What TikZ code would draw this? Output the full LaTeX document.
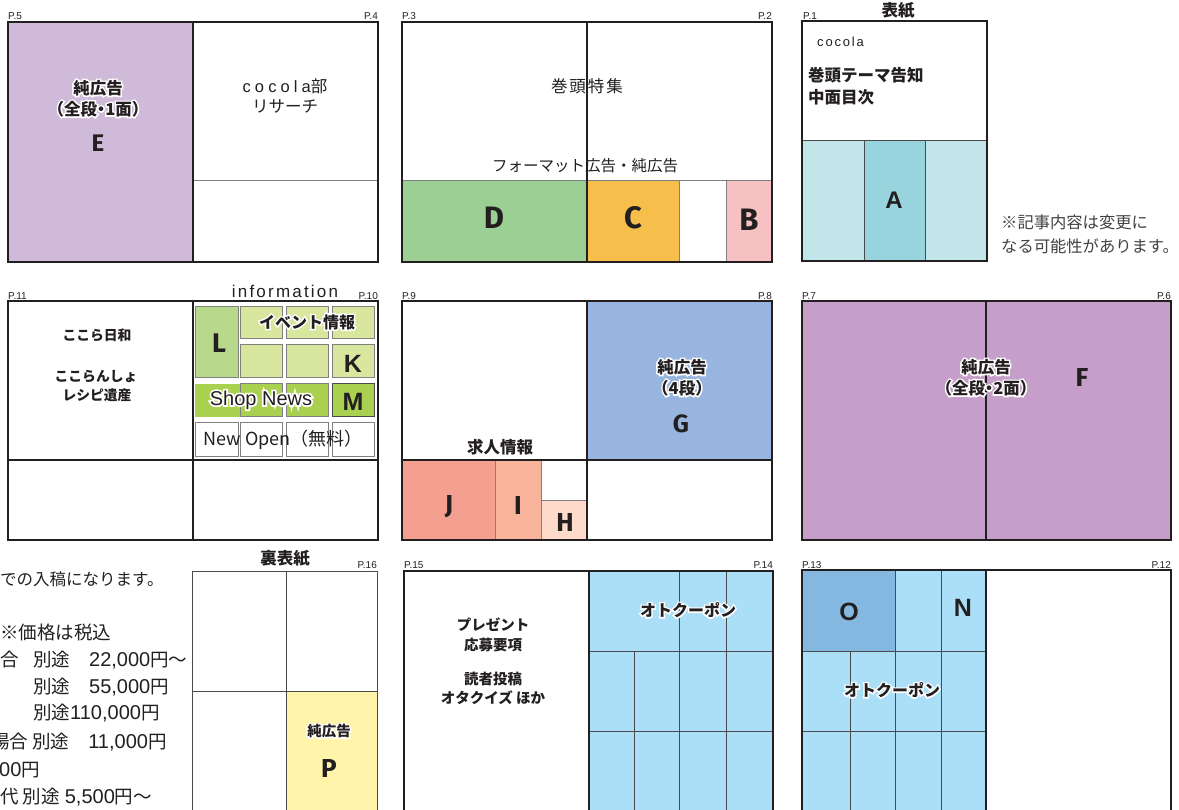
\documentclass[tikz,border=0pt]{standalone}
\usepackage{fontspec}
\setmainfont{Noto Sans CJK JP}
\newfontfamily\jh{Noto Sans CJK JP}[RawFeature=+halt]
\newfontfamily\jsp{Noto Sans CJK JP}[LetterSpace=12]
\newfontfamily\lat{Liberation Sans}
\newfontfamily\fira{Fira Sans}
\newfontfamily\latsp{Liberation Sans}[LetterSpace=25]
\newfontfamily\latsps{Liberation Sans}[LetterSpace=14]
\definecolor{ink}{HTML}{231F20}
\definecolor{gline}{HTML}{808080}
\definecolor{dline}{HTML}{4A4A4A}
\definecolor{ePurple}{HTML}{CFBAD9}
\definecolor{fPurple}{HTML}{C59FC9}
\definecolor{dGreen}{HTML}{9BCF93}
\definecolor{cOrange}{HTML}{F6BE4B}
\definecolor{bPink}{HTML}{F7C0C2}
\definecolor{aLight}{HTML}{C2E5EA}
\definecolor{aDark}{HTML}{98D4DD}
\definecolor{gBlue}{HTML}{97B5DE}
\definecolor{jRed}{HTML}{F4A090}
\definecolor{iSalmon}{HTML}{F9B59B}
\definecolor{hPeach}{HTML}{FDDACA}
\definecolor{lGreen}{HTML}{B8D98C}
\definecolor{evGreen}{HTML}{D8E79D}
\definecolor{shopGreen}{HTML}{A9D04F}
\definecolor{cpBlue}{HTML}{ABDFF8}
\definecolor{oBlue}{HTML}{84B8E1}
\definecolor{pYellow}{HTML}{FFF4AA}
\newcommand\halo[1]{\leavevmode\rlap{\color{white}\addfontfeature{FakeBold=18}#1}#1}
\newcommand\dg[1]{{\lat\fontsize{20}{20}\selectfont #1}}
\begin{document}
\begin{tikzpicture}[x=1pt,y=-1pt,
  border/.style={draw=ink, line width=1.1pt},
  inner/.style={draw=gline, line width=1pt},
  dark/.style={draw=dline, line width=1pt},
  pg/.style={font=\lat\fontsize{10}{10}\selectfont, inner sep=0pt, text=ink},
  jb/.style={font=\bfseries\fontsize{16.5}{16.5}\selectfont, inner sep=0pt, text=ink},
  jr/.style={font=\fontsize{16.5}{16.5}\selectfont, inner sep=0pt, text=ink},
  pr/.style={font=\fontsize{18.5}{18.5}\selectfont, inner sep=0pt, text=ink, anchor=west},
  bigc/.style={font=\fira\bfseries\fontsize{26}{26}\selectfont, inner sep=0pt, text=ink},
  bigl/.style={font=\lat\bfseries\fontsize{25}{25}\selectfont, inner sep=0pt, text=ink},
  cell/.style={draw=gline, line width=1pt}]
\useasboundingbox (0,0) rectangle (1179,810);
\clip (0,0) rectangle (1179,810);
\fill[white] (0,0) rectangle (1179,810);

% ===== P.5 / P.4 =====
\fill[ePurple] (8,22) rectangle (193,262);
\draw[inner] (193,181) -- (378,181);
\draw[border] (8,22) rectangle (378,262);
\draw[border] (193,22) -- (193,262);
\node[pg,anchor=west] (p5) at (8,16) {P.5};
\node[pg,anchor=east] (p4) at (378,16) {P.4};
\node[jb] (e1) at (98,88) {\halo{純広告}};
\node[jb,font=\jh\bfseries\fontsize{16.5}{16.5}\selectfont] (e2) at (98,109) {\halo{（全段・1面）}};
\node[bigc,font=\fira\bfseries\fontsize{24}{24}\selectfont] (eE) at (98,143) {E};
\node[jr] (r1) at (285,86) {{\latsp cocola}部};
\node[jr] (r2) at (285,106) {リサーチ};

% ===== P.3 / P.2 =====
\fill[dGreen] (402,181) rectangle (587,262);
\fill[cOrange] (587,181) rectangle (679,262);
\fill[bPink] (726,181) rectangle (772,262);
\draw[inner] (402,181) -- (772,181);
\draw[inner] (679,181) -- (679,262);
\draw[inner] (726,181) -- (726,262);
\draw[border] (402,22) rectangle (772,262);
\draw[border] (587,22) -- (587,262);
\node[pg,anchor=west] (p3) at (402,16) {P.3};
\node[pg,anchor=east] (p2) at (772,16) {P.2};
\node[jr,font=\jsp\fontsize{16.5}{16.5}\selectfont] (t1) at (587,86) {巻頭特集};
\node[jr,font=\fontsize{15.5}{15.5}\selectfont] (t2) at (585,166) {フォーマット広告・純広告};
\node[bigc,font=\fira\bfseries\fontsize{31}{31}\selectfont] (dD) at (494,218) {D};
\node[bigc,font=\fira\bfseries\fontsize{31}{31}\selectfont] (cC) at (633,218) {C};
\node[bigc,font=\fira\bfseries\fontsize{31}{31}\selectfont] (bB) at (749,220) {B};

% ===== P.1 =====
\fill[aLight] (802,141) rectangle (987,261);
\fill[aDark] (864,141) rectangle (925,261);
\draw[dark] (864,141) -- (864,261);
\draw[dark] (925,141) -- (925,261);
\draw[dark] (802,141) -- (987,141);
\draw[border] (802,21) rectangle (987,261);
\node[pg,anchor=west] (p1) at (803,16) {P.1};
\node[jb] (hyoshi) at (898,10) {表紙};
\node[pg,anchor=west,font=\latsps\fontsize{13}{13}\selectfont] (cov1) at (817,42) {cocola};
\node[jb,anchor=west] (cov2) at (808,75) {巻頭テーマ告知};
\node[jb,anchor=west] (cov3) at (808,97) {中面目次};
\node[bigl,font=\lat\bfseries\fontsize{24}{24}\selectfont] (aA) at (894,200) {A};
\node[jr,anchor=west,text=ink!85,font=\fontsize{16.3}{16.3}\selectfont] (note1) at (1001,222) {※記事内容は変更に};
\node[jr,anchor=west,text=ink!85,font=\fontsize{16.3}{16.3}\selectfont] (note2) at (1001,246) {なる可能性があります。};

% ===== P.11 / P.10 =====
\draw[border] (8,460) -- (378,460);
\draw[border] (8,301) rectangle (378,540);
\draw[border] (193,301) -- (193,540);
\node[pg,anchor=west] (p11) at (8,296) {P.11};
\node[pg,anchor=east] (p10) at (378,296) {P.10};
\node[pg,font=\lat\addfontfeature{LetterSpace=13}\fontsize{17}{17}\selectfont] (info) at (285,291) {information};
\node[jb,font=\bfseries\fontsize{13.8}{13.8}\selectfont] (k1) at (97,335) {ここら日和};
\node[jb,font=\bfseries\fontsize{13.8}{13.8}\selectfont] (k2) at (96,377) {ここらんしょ};
\node[jb,font=\bfseries\fontsize{13.8}{13.8}\selectfont] (k3) at (97,395) {レシピ遺産};
% info grid
\filldraw[cell,fill=lGreen] (195,307) rectangle (238,378);
\foreach \x/\xx in {240/282,286/328,332/374}{
  \filldraw[cell,fill=evGreen] (\x,307) rectangle (\xx,339);
  \filldraw[cell,fill=evGreen] (\x,345) rectangle (\xx,378);
  \filldraw[cell,fill=white] (\x,423) rectangle (\xx,456);
}
\filldraw[cell,fill=white] (195,423) rectangle (238,456);
\fill[shopGreen] (195,384) rectangle (240,417);
\filldraw[cell,fill=shopGreen] (240,384) rectangle (282,417);
\filldraw[cell,fill=shopGreen] (286,384) rectangle (328,417);
\filldraw[draw=dline,line width=1pt,fill=shopGreen] (332,384) rectangle (374,417);
\node[bigc,font=\fira\bfseries\fontsize{27}{27}\selectfont] (lL) at (219,343) {L};
\node[jb,font=\bfseries\fontsize{16}{16}\selectfont] (ev) at (307,322) {\halo{イベント情報}};
\node[bigl] (kK) at (353,364) {K};
\node[pg,font=\lat\fontsize{20}{20}\selectfont] (shop) at (261,400) {\halo{Shop News}};
\node[bigl] (mM) at (353,402) {M};
\node[jr,font=\fontsize{18}{18}\selectfont] (newo) at (283,440) {New Open（無料）};

% ===== P.9 / P.8 =====
\fill[gBlue] (587,301) rectangle (772,460);
\fill[jRed] (402,460) rectangle (495,540);
\fill[iSalmon] (495,460) rectangle (541,540);
\fill[hPeach] (541,500) rectangle (587,540);
\draw[inner] (495,460) -- (495,540);
\draw[inner] (541,460) -- (541,540);
\draw[inner] (541,500) -- (587,500);
\draw[border] (402,460) -- (772,460);
\draw[border] (402,301) rectangle (772,540);
\draw[border] (587,301) -- (587,540);
\node[pg,anchor=west] (p9) at (402,296) {P.9};
\node[pg,anchor=east] (p8) at (772,296) {P.8};
\node[jb] (g1) at (682,367) {\halo{純広告}};
\node[jb,font=\jh\bfseries\fontsize{16.5}{16.5}\selectfont] (g2) at (682,388) {\halo{（4段）}};
\node[bigc,font=\fira\bfseries\fontsize{25}{25}\selectfont] (gG) at (681,424) {G};
\node[jb] (kyujin) at (500,447) {求人情報};
\node[bigc] (jJ) at (449,507) {J};
\node[bigc] (iI) at (518,505) {I};
\node[bigc] (hH) at (565,522) {H};

% ===== P.7 / P.6 =====
\fill[fPurple] (802,301) rectangle (1171,540);
\draw[border] (802,301) rectangle (1171,540);
\draw[border] (986,301) -- (986,540);
\node[pg,anchor=west] (p7) at (802,296) {P.7};
\node[pg,anchor=east] (p6) at (1171,296) {P.6};
\node[jb] (f1) at (986,367) {\halo{純広告}};
\node[jb,font=\jh\bfseries\fontsize{16.5}{16.5}\selectfont] (f2) at (986,388) {\halo{（全段・2面）}};
\node[bigc] (fF) at (1082,377) {F};

% ===== left notes =====
\node[jr,anchor=west] (n1) at (0,579) {での入稿になります。};
\node[pr] (n2) at (0,632) {※価格は税込};
\node[pr] (n3) at (0,660) {合\hspace{14.5pt}別途\hspace{19pt}\dg{22,000}円〜};
\node[pr] (n4) at (33,687) {別途\hspace{19pt}\dg{55,000}円};
\node[pr] (n5) at (33,713) {別途\dg{110,000}円};
\node[pr] (n6) at (-9,742) {場合 別途\hspace{19pt}\dg{11,000}円};
\node[pr] (n7) at (-1,770) {\dg{00}円};
\node[pr] (n8) at (0,797) {代 別途\hspace{5pt}\dg{5,500}円〜};

% ===== P.16 =====
\fill[pYellow] (286,691) rectangle (377,830);
\draw[dark] (286,571) -- (286,830);
\draw[dark] (192,691) -- (377,691);
\draw[dark] (192,571) rectangle (377,830);
\node[jb] (ura) at (285,558) {裏表紙};
\node[pg,anchor=east] (p16) at (377,565) {P.16};
\node[jb,font=\bfseries\fontsize{14.5}{14.5}\selectfont] (pp1) at (329,731) {\halo{純広告}};
\node[bigc] (pP) at (329,768) {P};

% ===== P.15 / P.14 =====
\fill[cpBlue] (589,571) rectangle (773,830);
\draw[dark] (589,651) -- (773,651);
\draw[dark] (589,731) -- (773,731);
\draw[dark] (679,571) -- (679,830);
\draw[dark] (726,571) -- (726,830);
\draw[dark] (634,651) -- (634,830);
\draw[border] (404,571) rectangle (773,830);
\draw[border] (589,571) -- (589,830);
\node[pg,anchor=west] (p15) at (404,565) {P.15};
\node[pg,anchor=east] (p14) at (773,565) {P.14};
\node[jb,font=\bfseries\fontsize{16}{16}\selectfont] (otoku1) at (688,610) {\halo{オトクーポン}};
\node[jb,font=\bfseries\fontsize{14.5}{14.5}\selectfont] (pr1) at (493,625) {プレゼント};
\node[jb,font=\bfseries\fontsize{14.5}{14.5}\selectfont] (pr2) at (493,645) {応募要項};
\node[jb,font=\bfseries\fontsize{14.5}{14.5}\selectfont] (pr3) at (493,679) {読者投稿};
\node[jb,font=\bfseries\fontsize{14.5}{14.5}\selectfont] (pr4) at (493,698) {オタクイズ ほか};

% ===== P.13 / P.12 =====
\fill[cpBlue] (802,570) rectangle (986,830);
\fill[oBlue] (802,570) rectangle (895,651);
\draw[dark] (802,651) -- (986,651);
\draw[dark] (802,731) -- (986,731);
\draw[dark] (895,570) -- (895,830);
\draw[dark] (941,570) -- (941,830);
\draw[dark] (850,651) -- (850,830);
\draw[border] (802,570) rectangle (1171,830);
\draw[border] (986,570) -- (986,830);
\node[pg,anchor=west] (p13) at (802,565) {P.13};
\node[pg,anchor=east] (p12) at (1171,565) {P.12};
\node[bigl] (oO) at (849,612) {O};
\node[bigl] (nN) at (963,608) {N};
\node[jb,font=\bfseries\fontsize{16}{16}\selectfont] (otoku2) at (892,690) {\halo{オトクーポン}};
\end{tikzpicture}
\end{document}
